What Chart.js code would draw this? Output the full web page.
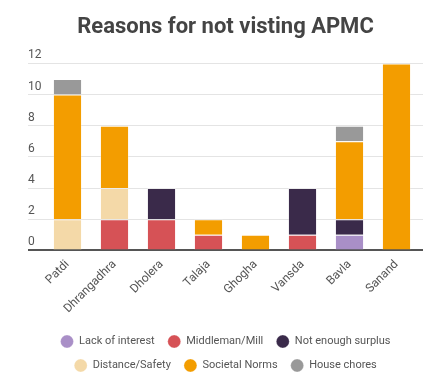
<!DOCTYPE html>
<html>
<head>
<meta charset="utf-8">
<script src="https://cdn.jsdelivr.net/npm/chart.js@4"></script>
<style>
  html, body { margin: 0; padding: 0; background: #fff; }
  #wrap { width: 442px; height: 386px; }
</style>
</head>
<body>
<div id="wrap"><canvas id="chart"></canvas></div>
<script>
// Chart data
const places = ['Patdi', 'Dhrangadhra', 'Dholera', 'Talaja', 'Ghogha', 'Vansda', 'Bavla', 'Sanand'];
const lackOfInterest = [0, 0, 0, 0, 0, 0, 1, 0];
const middleman = [0, 2, 2, 1, 0, 1, 0, 0];
const notEnoughSurplus = [0, 0, 2, 0, 0, 3, 1, 0];
const distanceSafety = [2, 2, 0, 0, 0, 0, 0, 0];
const societalNorms = [8, 4, 0, 1, 1, 0, 5, 12];
const houseChores = [1, 0, 0, 0, 0, 0, 1, 0];
const yTicks = [0, 2, 4, 6, 8, 10, 12];

const gridColor = '#e4e4e4';
const baseColor = '#555555';

function gridLineColor(ctx) {
    return ctx.tick && ctx.tick.value === 0 ? baseColor : gridColor;
}
function gridLineWidth(ctx) {
    return ctx.tick && ctx.tick.value === 0 ? 2 : 1;
}

function makeSet(label, data, color) {
    return {
        label: label,
        data: data,
        backgroundColor: color,
        borderColor: 'rgba(255,255,255,0.25)',
        borderWidth: 1,
        categoryPercentage: 1,
        barPercentage: 0.62
    };
}

document.addEventListener('DOMContentLoaded', function() {
    const ctx = document.getElementById('chart').getContext('2d');
    new Chart(ctx, {
        type: 'bar',
        data: {
            labels: places,
            datasets: [
                makeSet('Lack of interest', lackOfInterest, '#a98fc7'),
                makeSet('Middleman/Mill', middleman, '#d65256'),
                makeSet('Not enough surplus', notEnoughSurplus, '#3a2a4a'),
                makeSet('Distance/Safety', distanceSafety, '#f4d9a8'),
                makeSet('Societal Norms', societalNorms, '#f39d00'),
                makeSet('House chores', houseChores, '#999999')
            ]
        },
        options: {
            responsive: true,
            maintainAspectRatio: false,
            animation: false,
            layout: {
                padding: { left: 28, right: 19, top: 6, bottom: 5 }
            },
            plugins: {
                title: {
                    display: true,
                    text: 'Reasons for not visting APMC',
                    color: '#444444',
                    font: { family: 'Roboto', size: 22, weight: 'bold' },
                    padding: { top: 8, bottom: 23 }
                },
                legend: {
                    position: 'bottom',
                    labels: {
                        usePointStyle: true,
                        pointStyle: 'circle',
                        pointStyleWidth: 13,
                        boxHeight: 9.2,
                        padding: 13,
                        color: '#555555',
                        font: { family: 'Roboto', size: 11 }
                    }
                },
                tooltip: { enabled: false }
            },
            scales: {
                x: {
                    stacked: true,
                    grid: { display: false, drawTicks: false },
                    border: { display: false },
                    ticks: {
                        color: '#555555',
                        font: { family: 'Roboto', size: 12 },
                        minRotation: 45,
                        maxRotation: 45,
                        padding: 7
                    }
                },
                y: {
                    stacked: true,
                    min: 0,
                    max: 12,
                    afterFit: function(scale) { scale.width = 16; },
                    afterBuildTicks: function(scale) {
                        scale.ticks = yTicks.map(v => ({ value: v }));
                    },
                    grid: {
                        color: gridLineColor,
                        lineWidth: gridLineWidth,
                        tickLength: 16
                    },
                    border: { display: false },
                    ticks: {
                        crossAlign: 'far',
                        labelOffset: -8,
                        padding: 0,
                        color: '#555555',
                        font: { family: 'Roboto', size: 12 }
                    }
                },
                y2: {
                    position: 'right',
                    min: 0,
                    max: 12,
                    afterFit: function(scale) { scale.width = 3; },
                    afterBuildTicks: function(scale) {
                        scale.ticks = yTicks.map(v => ({ value: v }));
                    },
                    grid: {
                        drawOnChartArea: false,
                        color: gridLineColor,
                        lineWidth: gridLineWidth,
                        tickLength: 3
                    },
                    border: { display: false },
                    ticks: { display: false }
                }
            }
        }
    });
});
</script>
</body>
</html>
